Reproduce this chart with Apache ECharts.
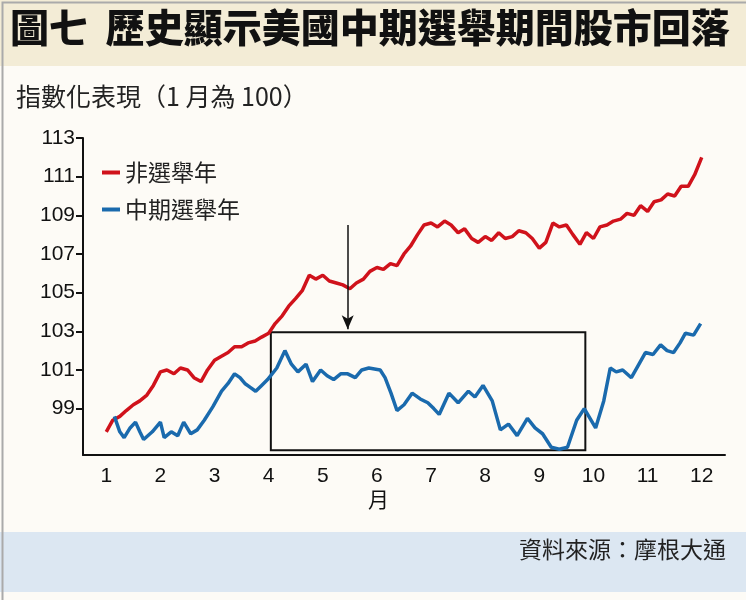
<!DOCTYPE html><html><head><meta charset="utf-8">
<script src="https://cdn.jsdelivr.net/npm/echarts@6/dist/echarts.min.js"></script>
<style>html,body{margin:0;padding:0;background:#fdfbf6}#c{width:746px;height:600px}</style></head><body><div id="c"></div>
<script>
const seriesNames = ['非選舉年', '中期選舉年'];
const monthTicks = [1,2,3,4,5,6,7,8,9,10,11,12];
const yTicks = [99,101,103,105,107,109,111,113];
const redMonths = [1.0,1.12,1.25,1.37,1.5,1.62,1.75,1.87,2.0,2.12,2.25,2.37,2.5,2.62,2.75,2.87,3.0,3.12,3.25,3.37,3.5,3.62,3.75,3.87,4.0,4.12,4.25,4.37,4.5,4.62,4.75,4.87,5.0,5.12,5.25,5.37,5.5,5.62,5.75,5.87,6.0,6.12,6.25,6.37,6.5,6.62,6.75,6.87,7.0,7.12,7.25,7.37,7.5,7.62,7.75,7.87,8.0,8.12,8.25,8.37,8.5,8.62,8.75,8.87,9.0,9.12,9.25,9.37,9.5,9.62,9.75,9.87,10.0,10.12,10.25,10.37,10.5,10.62,10.75,10.87,11.0,11.12,11.25,11.37,11.5,11.62,11.75,11.87,12.0];
const redValues = [97.8,98.4,98.6,98.9,99.2,99.4,99.7,100.2,100.9,101.0,100.8,101.1,101.0,100.6,100.4,101.0,101.5,101.7,101.9,102.2,102.2,102.4,102.5,102.7,102.9,103.4,103.8,104.3,104.7,105.1,105.9,105.7,105.9,105.6,105.5,105.4,105.2,105.5,105.7,106.1,106.3,106.2,106.5,106.4,107.0,107.4,108.0,108.5,108.6,108.4,108.7,108.5,108.1,108.3,107.8,107.6,107.9,107.7,108.1,107.8,107.9,108.2,108.1,107.8,107.3,107.6,108.6,108.4,108.5,108.0,107.5,108.1,107.8,108.4,108.5,108.7,108.8,109.1,109.0,109.5,109.2,109.7,109.8,110.1,110.0,110.5,110.5,111.1,112.0];
const blueMonths = [1.15,1.25,1.33,1.44,1.54,1.62,1.69,1.85,2.0,2.07,2.2,2.32,2.43,2.56,2.68,2.81,2.97,3.13,3.25,3.37,3.47,3.56,3.66,3.76,3.87,3.98,4.15,4.30,4.42,4.54,4.69,4.81,4.96,5.08,5.20,5.33,5.46,5.60,5.72,5.85,6.06,6.15,6.26,6.37,6.5,6.65,6.8,6.94,7.05,7.15,7.33,7.50,7.69,7.81,7.96,8.13,8.28,8.43,8.59,8.78,8.92,9.06,9.22,9.37,9.52,9.69,9.83,10.04,10.19,10.31,10.42,10.54,10.70,10.82,10.96,11.1,11.24,11.36,11.48,11.6,11.70,11.85,11.98];
const blueValues = [98.6,97.8,97.5,98.0,98.3,97.8,97.4,97.8,98.3,97.5,97.8,97.6,98.3,97.7,97.9,98.4,99.1,99.9,100.3,100.8,100.6,100.3,100.1,99.9,100.2,100.5,101.1,102.0,101.3,100.9,101.3,100.4,101.0,100.7,100.5,100.8,100.8,100.6,101.0,101.1,101.0,100.6,99.8,98.9,99.2,99.8,99.5,99.3,99.0,98.7,99.8,99.3,99.9,99.6,100.2,99.4,97.9,98.2,97.6,98.5,98.0,97.7,97.0,96.9,97.0,98.4,99.0,98.0,99.4,101.1,100.9,101.0,100.6,101.2,101.9,101.8,102.3,102.0,101.9,102.4,102.9,102.8,103.4];

const red = '#d0121b', blue = '#1a6aad';
const chart = echarts.init(document.getElementById('c'));
const FONT = '"Liberation Sans", "Noto Sans CJK TC", sans-serif';
const CJK = '"Noto Sans CJK TC", sans-serif';
chart.setOption({
  animation:false,
  backgroundColor:'#fdfbf6',
  textStyle:{fontFamily:FONT},
  grid:{left:83,right:21,top:138,bottom:145},
  legend:{orient:'vertical',left:97,top:156,itemGap:14,icon:'rect',itemWidth:18,itemHeight:4,
    textStyle:{fontSize:23,color:'#222',fontFamily:CJK},data:seriesNames},
  xAxis:{type:'value',min:0.57,max:12.43,
    axisLine:{show:true,lineStyle:{color:'#111',width:2}},
    axisTick:{show:false},splitLine:{show:false},
    axisLabel:{customValues:monthTicks,fontSize:21,color:'#111',margin:11}},
  yAxis:{type:'value',min:96.6,max:113,
    axisLine:{show:true,lineStyle:{color:'#111',width:2}},
    axisTick:{show:true,customValues:yTicks,length:7,lineStyle:{color:'#111',width:2}},
    splitLine:{show:false},
    axisLabel:{customValues:yTicks,fontSize:21,color:'#111',margin:8}},
  graphic:[
    {type:'rect',left:0,top:0,shape:{width:746,height:66},style:{fill:'#f3ecd6'}},
    {type:'text',left:10,top:8,style:{text:'圖七  歷史顯示美國中期選舉期間股市回落',fontSize:39,fontWeight:900,fill:'#111',fontFamily:CJK}},
    {type:'text',left:16,top:84,style:{text:'指數化表現（1 月為 100）',fontSize:25,fill:'#222',fontFamily:CJK}},
    {type:'text',left:368,top:489,style:{text:'月',fontSize:21,fill:'#111',fontFamily:CJK}},
    {type:'rect',left:0,top:532,shape:{width:746,height:60},style:{fill:'#dce7f2'}},
    {type:'text',right:20,top:538,style:{text:'資料來源：摩根大通',fontSize:23,fill:'#222',fontFamily:CJK}},
    {type:'rect',left:0,top:0,shape:{width:745,height:599},style:{fill:'none',stroke:'#aaa',lineWidth:2}}
  ],
  series:[
    {name:seriesNames[0],type:'line',color:red,symbol:'none',lineStyle:{width:3.5,color:red},
     data:redMonths.map((m,i)=>[m,redValues[i]]),
     markLine:{silent:true,symbol:['none','arrow'],symbolSize:[9,14],label:{show:false},
       lineStyle:{color:'#111',width:1.5,type:'solid'},
       data:[[{coord:[5.46,108.5]},{coord:[5.46,103.1]}]]}},
    {name:seriesNames[1],type:'line',color:blue,symbol:'none',lineStyle:{width:3.5,color:blue},
     data:blueMonths.map((m,i)=>[m,blueValues[i]]),
     markArea:{silent:true,label:{show:false},
       itemStyle:{color:'rgba(0,0,0,0)',borderColor:'#111',borderWidth:2,borderRadius:8},
       data:[[{coord:[4.04,102.95]},{coord:[9.85,96.85]}]]}}
  ]
});
</script></body></html>
